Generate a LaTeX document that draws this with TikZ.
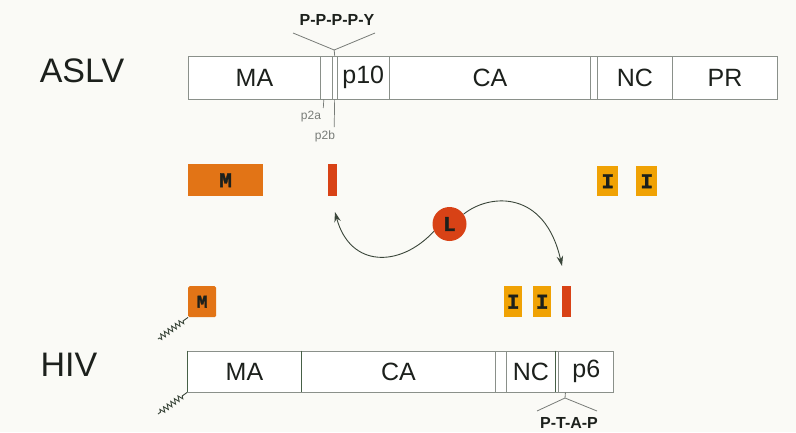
\documentclass[tikz,border=0pt]{standalone}
\usepackage{fontspec}
\setmainfont{Liberation Sans}
\newfontfamily\slab[BoldFeatures={FakeBold=1.6}]{Liberation Mono}
\usetikzlibrary{decorations.pathmorphing,arrows.meta}

\definecolor{paper}{RGB}{250,250,246}
\definecolor{edge}{RGB}{138,144,138}
\definecolor{ink}{RGB}{28,32,28}
\definecolor{darkedge}{RGB}{70,96,70}
\definecolor{orng}{RGB}{226,116,22}
\definecolor{amber}{RGB}{240,162,4}
\definecolor{vermil}{RGB}{216,66,22}
\definecolor{wire}{RGB}{58,70,58}
\definecolor{faint}{RGB}{120,124,120}

\begin{document}
\begin{tikzpicture}[x=1pt,y=-1pt,
  seg/.style={draw=edge, line width=0.9pt, fill=white, inner sep=0pt,
    anchor=west, text=ink, font=\fontsize{25}{25}\selectfont},
  virus/.style={text=ink, font=\fontsize{34}{34}\selectfont, inner sep=0pt},
  motif/.style={text=ink, font=\fontsize{16}{16}\selectfont\bfseries, inner sep=0pt},
  tiny/.style={text=faint, font=\fontsize{12}{12}\selectfont, inner sep=0pt},
  blk/.style={inner sep=0pt, anchor=north west, text=ink,
    font=\fontsize{21}{21}\selectfont\slab\bfseries},
  mbox/.style={blk, fill=orng},
  ibox/.style={blk, fill=amber},
  lbar/.style={blk, fill=vermil},
  bracket/.style={draw=faint, line width=0.8pt},
  curve/.style={draw=wire, line width=0.9pt, -{Stealth[length=10pt,width=6.5pt]}},
  lipid/.style={draw=wire, line width=0.9pt, decorate,
    decoration={zigzag, segment length=4.5pt, amplitude=2.6pt, pre length=6pt, post length=1pt}}
]
% background
\fill[paper] (0,0) rectangle (796,432);
\useasboundingbox (0,0) rectangle (796,432);

% ---------------- ASLV Gag ----------------
\node[virus] (aslv) at (82,70.5) {ASLV};
\node[seg, minimum width=132, minimum height=43] (aMA) at (188,77.5) {MA};
\node[seg, minimum width=11.7, minimum height=43] (p2a) at (320,77.5) {};
\node[seg, minimum width=5, minimum height=43] (p2b) at (331.7,77.5) {};
\node[seg, minimum width=52.3, minimum height=43] (p10) at (336.7,77.5) {p10};
\node[seg, minimum width=201, minimum height=43] (aCA) at (389,77.5) {CA};
\node[seg, minimum width=6.7, minimum height=43] (aSp) at (590,77.5) {};
\node[seg, minimum width=75.3, minimum height=43] (aNC) at (596.7,77.5) {NC};
\node[seg, minimum width=105, minimum height=43] (aPR) at (672,77.5) {PR};

% late domain motif above p2b
\node[motif] (pppy) at (337,19.5) {P-P-P-P-Y};
\coordinate (pjoint) at (334.2,50);
\coordinate (pleft) at (293,33);
\coordinate (pright) at (375,33);
\draw[bracket] (p2b.north) -- (pjoint);
\draw[bracket] (pleft) -- (pjoint) -- (pright);

% small spacer peptide labels
\node[tiny] (p2alab) at (311,117) {p2a};
\node[tiny] (p2blab) at (325,136) {p2b};
\coordinate (p2atick) at (323.3,108);
\coordinate (p2btick) at (334.2,127);
\draw[bracket, line width=0.7pt] ([xshift=-2.5pt]p2a.south) -- (p2atick);
\draw[bracket, line width=0.7pt] (p2b.south) -- (p2btick);

% ---------------- functional domains, ASLV row ----------------
\node[mbox, minimum width=75, minimum height=32] (aM) at (188,164) {M};
\node[lbar, minimum width=9, minimum height=32] (aL) at (328,164) {};
\node[ibox, minimum width=21, minimum height=30] (aI1) at (597,166) {I};
\node[ibox, minimum width=21, minimum height=30] (aI2) at (636,166) {I};

% ---------------- late domain swap ----------------
\node[circle, fill=vermil, minimum size=34pt, inner sep=0pt, text=ink,
  font=\fontsize{21}{21}\selectfont\slab\bfseries] (L) at (449.5,224) {L};
\coordinate (tipA) at (335,212);
\coordinate (tipB) at (562,266);
\draw[curve] (L.205) .. controls (400,268) and (350,268) .. (tipA);
\draw[curve] (L.35) .. controls (490,193) and (545,190) .. (tipB);

% ---------------- functional domains, HIV row ----------------
\node[mbox, minimum width=28, minimum height=31, rounded corners=1.5pt,
  font=\fontsize{18}{18}\selectfont\slab\bfseries] (hM) at (188,286) {M};
\node[ibox, minimum width=18, minimum height=31] (hI1) at (504,286) {I};
\node[ibox, minimum width=18, minimum height=31] (hI2) at (533,286) {I};
\node[lbar, minimum width=9, minimum height=31] (hL) at (562,286) {};
\coordinate (tailM) at (158,339);
\draw[lipid] (hM.south west) -- (tailM);

% ---------------- HIV Gag ----------------
\node[virus] (hiv) at (69,364.5) {HIV};
\node[seg, minimum width=114, minimum height=41] (hMA) at (187,371.5) {MA};
\node[seg, minimum width=194, minimum height=41] (hCA) at (301,371.5) {CA};
\node[seg, minimum width=10.7, minimum height=41] (hSp1) at (495,371.5) {};
\node[seg, minimum width=49.3, minimum height=41] (hNC) at (505.7,371.5) {NC};
\node[seg, minimum width=3.3, minimum height=41] (hSp2) at (555,371.5) {};
\node[seg, minimum width=55, minimum height=41] (p6) at (558.3,371.5) {p6};
% darker borders
\draw[darkedge, line width=0.9pt] (hMA.north west) -- (hMA.south west);
\draw[darkedge, line width=0.9pt] (hMA.north east) -- (hMA.south east);
\draw[darkedge, line width=0.9pt] (hSp2.north west) -- (hSp2.south west);
\coordinate (tailG) at (158,414);
\draw[lipid] (hMA.south west) -- (tailG);

% late domain motif below p6
\node[motif] (ptap) at (569,423) {P-T-A-P};
\coordinate (tjoint) at (565,398);
\coordinate (tleft) at (537,411);
\coordinate (tright) at (597,411);
\draw[bracket] ([xshift=-20.8pt]p6.south) -- (tjoint);
\draw[bracket] (tleft) -- (tjoint) -- (tright);
\end{tikzpicture}
\end{document}
